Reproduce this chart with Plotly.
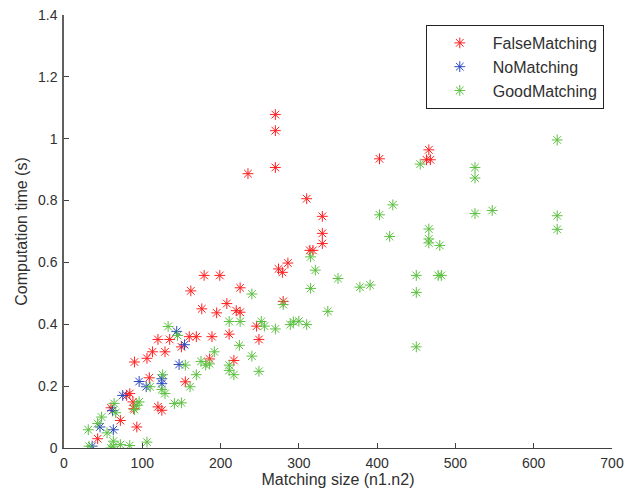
import plotly.graph_objects as go

# Matching results: size (n1.n2) vs computation time (s)
false_x = [270, 270, 270, 235, 310, 403, 466, 463, 468, 330, 330, 330, 314, 318,
           286, 274, 279, 179, 199, 225, 162, 208, 176, 280, 195, 220, 225, 246,
           249, 211, 189, 169, 160, 120, 135, 113, 129, 106, 150, 90, 186, 217,
           109, 155, 84, 80, 88, 89, 60, 120, 125, 72, 93, 43]
false_y = [1.078, 1.026, 0.907, 0.887, 0.806, 0.935, 0.964, 0.932, 0.932, 0.749,
           0.694, 0.661, 0.639, 0.639, 0.598, 0.579, 0.568, 0.558, 0.558, 0.518,
           0.508, 0.467, 0.450, 0.474, 0.437, 0.444, 0.439, 0.394, 0.351, 0.368,
           0.360, 0.360, 0.360, 0.351, 0.351, 0.311, 0.311, 0.290, 0.327, 0.278,
           0.288, 0.283, 0.227, 0.214, 0.176, 0.170, 0.149, 0.127, 0.130, 0.133,
           0.122, 0.089, 0.068, 0.030]

no_x = [144, 154, 147, 96, 105, 125, 125, 75, 62, 46, 63, 36]
no_y = [0.377, 0.334, 0.270, 0.215, 0.198, 0.224, 0.208, 0.170, 0.121, 0.068,
        0.059, 0.006]

good_x = [240, 211, 225, 252, 256, 270, 289, 293, 300, 310, 280, 315, 315, 321,
          133, 145, 192, 224, 240, 249, 175, 181, 186, 155, 169, 211, 211, 217,
          161, 110, 126, 125, 129, 141, 150, 96, 93, 90, 64, 66, 48, 43, 55, 31,
          32, 63, 63, 60, 72, 84, 106, 455, 420, 403, 416, 466, 466, 466, 480,
          450, 478, 482, 450, 450, 391, 378, 350, 337, 630, 525, 525, 525, 547,
          630, 630]
good_y = [0.498, 0.409, 0.409, 0.409, 0.394, 0.385, 0.399, 0.408, 0.410, 0.399,
          0.464, 0.618, 0.516, 0.575, 0.393, 0.364, 0.311, 0.332, 0.297, 0.248,
          0.280, 0.268, 0.272, 0.268, 0.237, 0.268, 0.251, 0.237, 0.198, 0.198,
          0.237, 0.189, 0.176, 0.144, 0.146, 0.149, 0.138, 0.124, 0.144, 0.114,
          0.100, 0.079, 0.049, 0.059, 0.006, 0.022, 0.006, 0.000, 0.011, 0.008,
          0.019, 0.918, 0.786, 0.754, 0.684, 0.708, 0.676, 0.663, 0.655, 0.558,
          0.558, 0.558, 0.503, 0.327, 0.527, 0.520, 0.548, 0.442, 0.996, 0.907,
          0.873, 0.758, 0.768, 0.751, 0.707]

series = [
    ('FalseMatching', false_x, false_y, '#ff2020'),
    ('NoMatching', no_x, no_y, '#2c48c0'),
    ('GoodMatching', good_x, good_y, '#5cc040'),
]

fig = go.Figure()
for name, xs, ys, col in series:
    fig.add_trace(go.Scatter(
        x=xs, y=ys, mode='markers', name=name, legendgroup=name,
        marker=dict(symbol='asterisk-open', size=9, color=col,
                    line=dict(width=1, color=col)),
    ))

sans = 'Liberation Sans, Arial, sans-serif'

fig.update_layout(
    width=626, height=493,
    margin=dict(l=64, r=14, t=15, b=45),
    paper_bgcolor='white', plot_bgcolor='white',
    font=dict(family=sans, size=14, color='#303030'),
    showlegend=True,
    legend=dict(
        x=0.985, y=0.977, xanchor='right', yanchor='top',
        bordercolor='#222', borderwidth=1, bgcolor='white',
        itemwidth=56, tracegroupgap=0, traceorder='grouped',
        font=dict(family=sans, size=16, color='#303030'),
    ),
    xaxis=dict(
        range=[0, 700], dtick=100, showgrid=False, zeroline=False,
        showline=True, linecolor='#404040', linewidth=1,
        ticks='inside', ticklen=5, tickcolor='#404040',
        automargin=False, ticklabelstandoff=2, ticklabeloverflow='allow',
        title=dict(text='Matching size (n1.n2)', standoff=2,
                   font=dict(family=sans, size=16, color='#303030')),
    ),
    yaxis=dict(
        range=[0, 1.4], dtick=0.2, showgrid=False, zeroline=False,
        showline=True, linecolor='#606060', linewidth=1.5,
        ticks='inside', ticklen=5, tickcolor='#404040',
        automargin=False, ticklabelstandoff=2, ticklabeloverflow='allow',
        title=dict(text='Computation time (s)', standoff=6,
                   font=dict(family=sans, size=16, color='#303030')),
    ),
)

# drop the default body margin so the figure sits at the page corner
fig.write_html("out.html", config={'displayModeBar': False},
               post_script="document.body.style.margin='0';")
